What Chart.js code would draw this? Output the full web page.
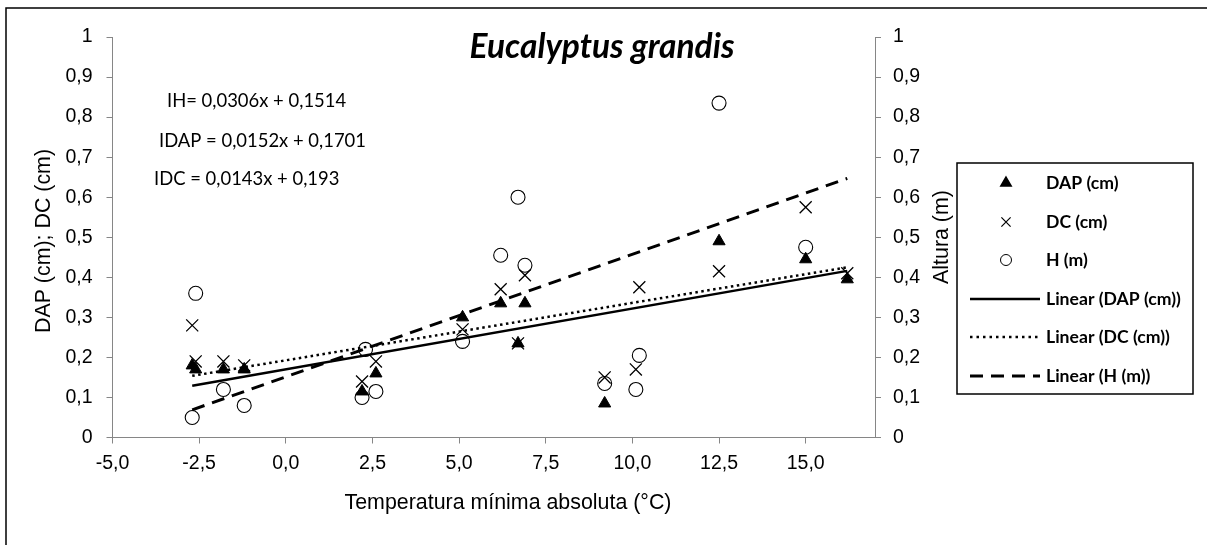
<!DOCTYPE html>
<html>
<head>
<meta charset="utf-8">
<script src="https://cdn.jsdelivr.net/npm/chart.js@4"></script>
<style>
  body { margin: 0; background: #fff; }
  #wrap { width: 1207px; height: 545px; position: relative; }
</style>
</head>
<body>
<div id="wrap"><canvas id="eucChart"></canvas></div>
<script>
// Data (x = temperatura mínima absoluta, °C)
const dapTemp = [-2.7, -2.6, -1.8, -1.2, 2.2, 2.6, 5.1, 6.2, 6.7, 6.9, 9.2, 12.5, 15.0, 16.2];
const dapValues = [0.18, 0.17, 0.17, 0.17, 0.115, 0.16, 0.30, 0.335, 0.235, 0.335, 0.085, 0.49, 0.445, 0.395];

const dcTemp = [-2.7, -2.6, -1.8, -1.2, 2.2, 2.6, 5.1, 6.2, 6.7, 6.9, 9.2, 10.1, 10.2, 12.5, 15.0, 16.2];
const dcValues = [0.28, 0.19, 0.19, 0.18, 0.14, 0.19, 0.27, 0.37, 0.235, 0.405, 0.15, 0.17, 0.375, 0.415, 0.575, 0.41];

const hTemp = [-2.7, -2.6, -1.8, -1.2, 2.2, 2.3, 2.6, 5.1, 6.2, 6.7, 6.9, 9.2, 10.1, 10.2, 12.5, 15.0];
const hValues = [0.05, 0.36, 0.12, 0.08, 0.10, 0.22, 0.115, 0.24, 0.455, 0.60, 0.43, 0.135, 0.12, 0.205, 0.835, 0.475];

// trend line end points
const trendTemp = [-2.7, 16.2];
const trendDAP = [0.129, 0.416];
const trendDC = [0.154, 0.425];
const trendH = [0.069, 0.647];

const equations = ['IH= 0,0306x + 0,1514', 'IDAP = 0,0152x + 0,1701', 'IDC = 0,0143x + 0,193'];
const legendLabels = ['DAP (cm)', 'DC (cm)', 'H (m)', 'Linear (DAP (cm))', 'Linear (DC (cm))', 'Linear (H (m))'];

function pts(xs, ys) {
    return xs.map((x, i) => ({ x: x, y: ys[i] }));
}

function commaNum(v, dec) {
    var r = Math.round(v * 100) / 100;
    var s = dec ? r.toFixed(dec) : String(r);
    return s.replace('.', ',');
}

// size a font so that a text gets a given width
function fitFont(ctx, text, style, family, width) {
    ctx.font = style + ' 100px ' + family;
    var w = ctx.measureText(text).width;
    return style + ' ' + (100 * width / w).toFixed(2) + 'px ' + family;
}

const axisGray = '#868686';
const tickFont = { family: "'Liberation Sans', Arial, sans-serif", size: 19.5 };

const decorPlugin = {
    id: 'decor',
    beforeDraw(chart) {
        const ctx = chart.ctx;
        ctx.save();
        ctx.fillStyle = '#fff';
        ctx.fillRect(0, 0, chart.width, chart.height);
        ctx.strokeStyle = '#000';
        ctx.lineWidth = 1.5;
        ctx.beginPath();
        ctx.moveTo(6, chart.height + 2);
        ctx.lineTo(6, 8);
        ctx.lineTo(chart.width + 2, 8);
        ctx.stroke();
        ctx.restore();
    },
    afterDraw(chart) {
        const ctx = chart.ctx;
        ctx.save();
        ctx.fillStyle = '#000';

        // title
        ctx.font = fitFont(ctx, 'Eucalyptus grandis', 'italic bold', 'Lato, sans-serif', 265);
        ctx.textAlign = 'center';
        ctx.textBaseline = 'alphabetic';
        ctx.fillText('Eucalyptus grandis', 602, 58);

        // trend equations
        ctx.font = fitFont(ctx, equations[1], 'normal', 'Lato, sans-serif', 207);
        ctx.textAlign = 'left';
        ctx.fillText(equations[0], 167, 107);
        ctx.fillText(equations[1], 159, 147);
        ctx.fillText(equations[2], 154, 185);

        // axis titles
        const titleFont = fitFont(ctx, 'Temperatura mínima absoluta (°C)', 'normal', "'Liberation Sans', Arial, sans-serif", 327);
        ctx.font = titleFont;
        ctx.textAlign = 'center';
        ctx.textBaseline = 'middle';
        ctx.fillText('Temperatura mínima absoluta (°C)', 508, 503);
        ctx.save();
        ctx.translate(44, 241);
        ctx.rotate(-Math.PI / 2);
        ctx.fillText('DAP (cm); DC (cm)', 0, 0);
        ctx.restore();
        ctx.save();
        ctx.translate(942, 237);
        ctx.rotate(-Math.PI / 2);
        ctx.fillText('Altura (m)', 0, 0);
        ctx.restore();

        // legend box
        ctx.strokeStyle = '#000';
        ctx.lineWidth = 1.5;
        ctx.strokeRect(957, 163, 236, 231);
        const rowY = [183, 222, 260, 299, 337, 376];
        ctx.font = fitFont(ctx, legendLabels[3], 'bold', 'Lato, sans-serif', 135);
        ctx.textAlign = 'left';
        legendLabels.forEach((lbl, i) => ctx.fillText(lbl, 1046, rowY[i]));

        const h = Chart.helpers;
        ctx.fillStyle = '#000';
        ctx.strokeStyle = '#000';
        h.drawPoint(ctx, { pointStyle: 'triangle', radius: 6, borderWidth: 1, rotation: 0 }, 1006, rowY[0]);
        ctx.lineWidth = 1.2;
        h.drawPoint(ctx, { pointStyle: 'crossRot', radius: 6.5, borderWidth: 1.2, rotation: 0 }, 1006, rowY[1]);
        ctx.fillStyle = 'rgba(0,0,0,0)';
        ctx.lineWidth = 1;
        h.drawPoint(ctx, { pointStyle: 'circle', radius: 5.5, borderWidth: 1, rotation: 0 }, 1006, rowY[2]);

        const lineSamples = [
            { w: 2.5, dash: [] },
            { w: 2.5, dash: [2.5, 4] },
            { w: 3, dash: [13, 8] }
        ];
        lineSamples.forEach((s, i) => {
            ctx.lineWidth = s.w;
            ctx.setLineDash(s.dash);
            ctx.beginPath();
            ctx.moveTo(970, rowY[3 + i]);
            ctx.lineTo(1040, rowY[3 + i]);
            ctx.stroke();
        });
        ctx.setLineDash([]);
        ctx.restore();
    }
};

const ctx = document.getElementById('eucChart').getContext('2d');
const eucChart = new Chart(ctx, {
    type: 'scatter',
    data: {
        datasets: [
            {
                label: 'DAP (cm)',
                data: pts(dapTemp, dapValues),
                yAxisID: 'y',
                pointStyle: 'triangle',
                pointRadius: 7,
                backgroundColor: '#000',
                borderColor: '#000',
                borderWidth: 1
            },
            {
                label: 'DC (cm)',
                data: pts(dcTemp, dcValues),
                yAxisID: 'y',
                pointStyle: 'crossRot',
                pointRadius: 8.5,
                borderColor: '#000',
                borderWidth: 1.3
            },
            {
                label: 'H (m)',
                data: pts(hTemp, hValues),
                yAxisID: 'y1',
                pointStyle: 'circle',
                pointRadius: 7,
                backgroundColor: 'rgba(0,0,0,0)',
                borderColor: '#000',
                borderWidth: 1.1
            },
            {
                label: 'Linear (DAP (cm))',
                data: pts(trendTemp, trendDAP),
                yAxisID: 'y',
                showLine: true,
                pointRadius: 0,
                borderColor: '#000',
                borderWidth: 2.5
            },
            {
                label: 'Linear (DC (cm))',
                data: pts(trendTemp, trendDC),
                yAxisID: 'y',
                showLine: true,
                pointRadius: 0,
                borderColor: '#000',
                borderWidth: 2.5,
                borderDash: [2.5, 3.5]
            },
            {
                label: 'Linear (H (m))',
                data: pts(trendTemp, trendH),
                yAxisID: 'y1',
                showLine: true,
                pointRadius: 0,
                borderColor: '#000',
                borderWidth: 3,
                borderDash: [13, 8]
            }
        ]
    },
    options: {
        responsive: true,
        maintainAspectRatio: false,
        animation: false,
        layout: { padding: { top: 37, right: 252, bottom: 0, left: 0 } },
        plugins: {
            legend: { display: false },
            tooltip: { enabled: false }
        },
        scales: {
            x: {
                type: 'linear',
                min: -5,
                max: 17,
                afterBuildTicks: (scale) => {
                    scale.ticks = scale.ticks.filter(t => Math.abs(t.value / 2.5 - Math.round(t.value / 2.5)) < 1e-6);
                },
                afterFit: (scale) => { scale.height = 107.5; },
                ticks: {
                    stepSize: 2.5,
                    padding: 8,
                    color: '#000',
                    font: tickFont,
                    maxRotation: 0,
                    callback: (v) => commaNum(v, 1)
                },
                grid: { drawOnChartArea: false, tickLength: 6, color: axisGray },
                border: { color: axisGray, width: 1 }
            },
            y: {
                position: 'left',
                min: 0,
                max: 1,
                afterFit: (scale) => { scale.width = 112.5; },
                ticks: {
                    stepSize: 0.1,
                    padding: 14,
                    color: '#000',
                    font: tickFont,
                    callback: (v) => commaNum(v)
                },
                grid: { drawOnChartArea: false, tickLength: 6, color: axisGray },
                border: { color: axisGray, width: 1 }
            },
            y1: {
                position: 'right',
                min: 0,
                max: 1,
                afterFit: (scale) => { scale.width = 80; },
                ticks: {
                    stepSize: 0.1,
                    padding: 12,
                    color: '#000',
                    font: tickFont,
                    callback: (v) => commaNum(v)
                },
                grid: { drawOnChartArea: false, tickLength: 6, color: axisGray },
                border: { color: axisGray, width: 1 }
            }
        }
    },
    plugins: [decorPlugin]
});
</script>
</body>
</html>
